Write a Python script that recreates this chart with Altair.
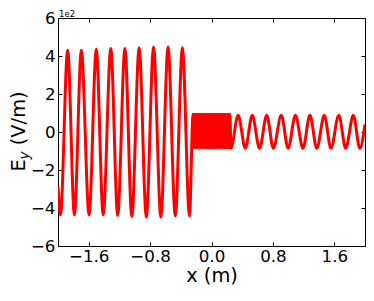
import altair as alt
import pandas as pd

# Left region (large-amplitude wave): extrema (x in m, Ey in V/m)
x_left = [-2.000, -1.968, -1.874, -1.786, -1.696, -1.595, -1.501, -1.411, -1.312, -1.222,
          -1.128, -1.038, -0.943, -0.849, -0.755, -0.660, -0.566, -0.472, -0.379, -0.287]
ey_left = [-287, -437, 430, -437, 430, -437, 435, -437, 439, -440,
           440, -445, 443, -448, 447, -448, 447, -442, 443, -442]

# Middle region (very fast oscillation, appears as a solid block)
x_mid = [-0.24, -0.23, -0.22, -0.21, -0.20, -0.19, -0.18, -0.17, -0.16, -0.15,
         -0.14, -0.13, -0.12, -0.11, -0.10, -0.09, -0.08, -0.07, -0.06, -0.05,
         -0.04, -0.03, -0.02, -0.01, 0.00, 0.01, 0.02, 0.03, 0.04, 0.05,
         0.06, 0.07, 0.08, 0.09, 0.10, 0.11, 0.12, 0.13, 0.14, 0.15,
         0.16, 0.17, 0.18, 0.19, 0.20, 0.21, 0.22, 0.23, 0.24]
ey_mid = [93, -83, 93, -83, 93, -83, 93, -83, 93, -83,
          93, -83, 93, -83, 93, -83, 93, -83, 93, -83,
          93, -83, 93, -83, 93, -83, 93, -83, 93, -83,
          93, -83, 93, -83, 93, -83, 93, -83, 93, -83,
          93, -83, 93, -83, 93, -83, 93, -83, 93]

# Right region (small-amplitude wave)
x_right = [0.253, 0.347, 0.441, 0.531, 0.626, 0.720, 0.806, 0.909, 0.999, 1.093,
           1.192, 1.282, 1.372, 1.470, 1.556, 1.659, 1.749, 1.848, 1.933, 2.000]
ey_right = [-86, 88, -86, 88, -86, 88, -86, 88, -86, 88,
            -86, 88, -86, 88, -86, 88, -86, 88, -86, 40]

x_ticks = [-1.6, -0.8, 0.0, 0.8, 1.6]
y_ticks = [-600, -400, -200, 0, 200, 400, 600]

xs_all = x_left + x_mid + x_right
ey_all = ey_left + ey_mid + ey_right
df = pd.DataFrame({"x": xs_all, "ey": ey_all, "i": list(range(len(xs_all)))})

FONT = "DejaVu Sans"
W, H = 307, 228
TICK_FS = 16.7
TITLE_FS = 19.4
xsc = alt.Scale(domain=[-2, 2], nice=False, zero=False)
ysc = alt.Scale(domain=[-600, 600], nice=False, zero=False)

line = alt.Chart(df).mark_line(
    color="#ff0000", strokeWidth=3, interpolate="monotone", clip=True
).encode(
    x=alt.X("x:Q", scale=xsc, axis=alt.Axis(
        orient="bottom", values=x_ticks, format=".1f", offset=-4, tickSize=4,
        domain=False, grid=False, labelPadding=2, title="x (m)", titlePadding=2,
        labelFlush=False, titleFontSize=TITLE_FS)),
    y=alt.Y("ey:Q", scale=ysc, axis=alt.Axis(
        orient="left", values=y_ticks, labelExpr="format(datum.value/100, 'd')",
        offset=-4, tickSize=4, domain=False, grid=False, labelPadding=3,
        title=None, labelFlush=False)),
    order="i:Q",
)

ticks = alt.Chart(df).mark_point(opacity=0).encode(
    x=alt.X("x:Q", scale=xsc, axis=alt.Axis(
        orient="top", values=x_ticks, labels=False, offset=-4, tickSize=4,
        domain=False, grid=False, title=None)),
    y=alt.Y("ey:Q", scale=ysc, axis=alt.Axis(
        orient="right", values=y_ticks, labels=False, offset=-4, tickSize=4,
        domain=False, grid=False, title=None)),
)

def txt(s, x, y, size, style="normal", angle=270, align="center", baseline="alphabetic"):
    return alt.Chart(pd.DataFrame({"t": [s]})).mark_text(
        angle=angle, fontSize=size, font=FONT, fontStyle=style, align=align,
        baseline=baseline, color="black"
    ).encode(text="t:N", x=alt.value(x), y=alt.value(y))

e_t = txt("E", -33.5, 147.3, TITLE_FS)
y_t = txt("y", -29.5, 137.4, 13.6, style="italic")
u_t = txt("(V/m)", -33.5, 100.3, TITLE_FS)
off_t = txt("1e2", 1, -1.5, 8.5, angle=0, align="left", baseline="alphabetic")

chart = alt.layer(line, ticks, e_t, y_t, u_t, off_t).resolve_axis(
    x="independent", y="independent"
).properties(
    width=W, height=H,
    padding={"left": 50, "top": 10, "right": 1, "bottom": 42},
    autosize=alt.AutoSizeParams(type="none"),
).configure_view(
    stroke="black", strokeWidth=1
).configure_axis(
    labelFont=FONT, titleFont=FONT, labelFontSize=TICK_FS, titleFontSize=TITLE_FS,
    labelColor="black", titleColor="black", tickColor="black", tickWidth=1,
    titleFontWeight="normal",
)

chart.save("out.html", embed_options={"renderer": "svg", "actions": False})
